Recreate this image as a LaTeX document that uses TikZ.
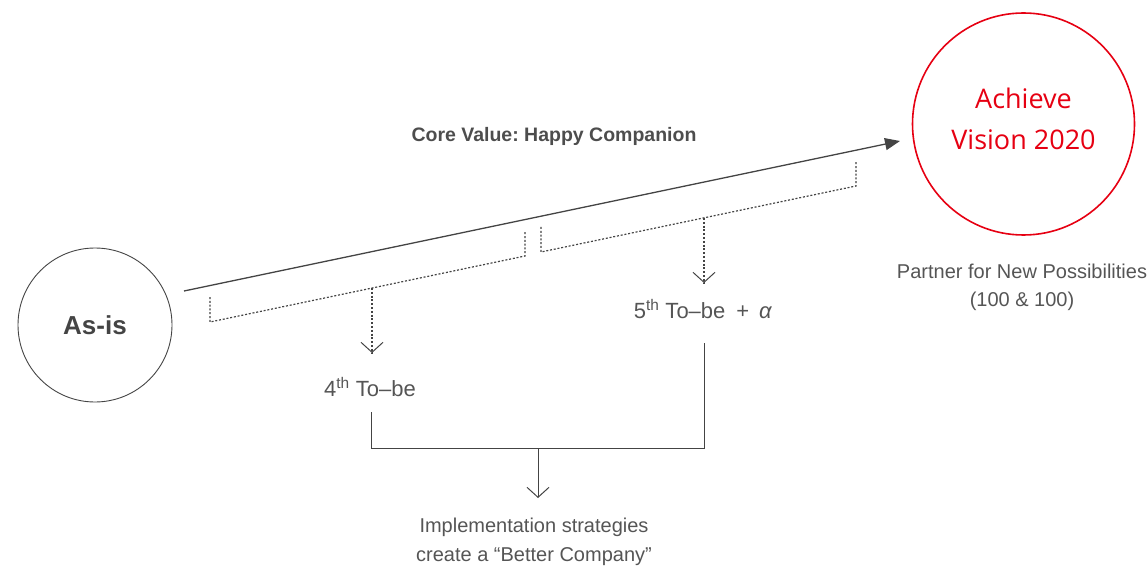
\documentclass[tikz,border=0pt]{standalone}
\usepackage{fontspec}
\setmainfont{Liberation Sans}
\newfontfamily\visfont{Open Sans}
\usetikzlibrary{arrows.meta}
\definecolor{txt}{HTML}{555555}
\definecolor{ln}{HTML}{444444}
\definecolor{vred}{HTML}{E60012}
\frenchspacing
\tikzset{
  dotline/.style={draw=ln, line width=1.2pt, dash pattern=on 2pt off 1.8pt},
  solidline/.style={draw=ln, line width=1pt},
  openarrow/.style={-{Straight Barb[length=10pt,width=22pt,line width=1pt]}},
  lbl/.style={text=txt, inner sep=0pt, align=center},
}
\begin{document}
\begin{tikzpicture}[x=1pt,y=-1pt]
\useasboundingbox (0,0) rectangle (1148,569);
% circles
\node[circle, draw=ln, line width=0.9pt, minimum size=154pt, inner sep=0pt,
      text=ln, font=\fontsize{26}{30}\selectfont\bfseries] (asis) at (95,325) {As-is};
\node[circle, draw=vred, line width=1.6pt, minimum size=222pt, inner sep=0pt] (vision) at (1023.5,124) {};
\node[text=vred, align=center, inner sep=0pt, font=\visfont\fontsize{27}{41}\selectfont] (visiontext) at (1023.5,119) {Achieve\\Vision 2020};
% main arrow
\coordinate (ms) at (184,291);
\coordinate (me) at (900,141);
\draw[draw=ln, line width=1.3pt, -{Triangle[length=15pt,width=12pt]}] (ms) -- (me);
\node[lbl, font=\fontsize{19.5}{22}\selectfont\bfseries, text=ln!95] (core) at (554,136) {Core Value: Happy Companion};
% dotted brackets
\draw[dotline] (210,297) -- (210,322) -- (525,256) -- (525,231);
\draw[dotline] (541,227) -- (541,252) -- (856,186) -- (856,161);
\coordinate (b1m) at (372,288);
\coordinate (b1t) at (372,353);
\coordinate (b2m) at (704,218);
\coordinate (b2t) at (704,283);
\draw[dotline] (b1m) -- (b1t);
\draw[dotline] (b2m) -- (b2t);
\draw[draw=ln, line width=1pt, openarrow] ([yshift=1pt]b1t) -- (b1t);
\draw[draw=ln, line width=1pt, openarrow] ([yshift=1pt]b2t) -- (b2t);
% labels
\node[lbl, font=\fontsize{22}{26}\selectfont] (tobe4) at (370,387) {4\textsuperscript{th} To–be};
\node[lbl, font=\fontsize{22}{26}\selectfont] (tobe5) at (703,309) {5\textsuperscript{th} To–be\hspace{0.5em}+\hspace{0.45em}\textit{α}};
\node[lbl, font=\fontsize{20}{22}\selectfont] (partner) at (1022,271) {Partner for New Possibilities};
\node[lbl, font=\fontsize{20}{22}\selectfont] (hund) at (1022,301) {(100 \& 100)};
% solid bracket
\coordinate (s4) at (371,412);
\coordinate (s5) at (704,343);
\coordinate (sm) at (538,448);
\coordinate (st) at (538,498);
\draw[solidline] (s4) -- (371,448) -- (704,448) -- (s5);
\draw[solidline, openarrow] (sm) -- (st);
\node[lbl, font=\fontsize{20}{22}\selectfont] (impl) at (534,527) {Implementation strategies};
\node[lbl, font=\fontsize{20}{22}\selectfont] (better) at (534,557) {create a “Better Company”};
\end{tikzpicture}
\end{document}
